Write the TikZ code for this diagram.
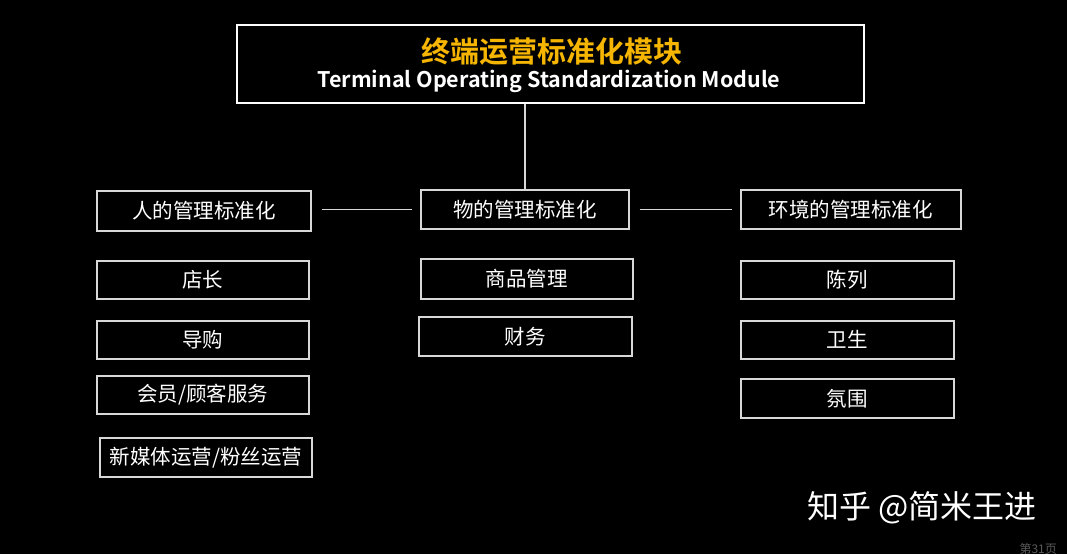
\documentclass[tikz,border=0pt]{standalone}
\usepackage{fontspec}
\setmainfont{Noto Sans CJK SC}
\newfontfamily\cjk{Noto Sans CJK SC}
\newfontfamily\cjkb{Noto Sans CJK SC Bold}
\definecolor{titleyellow}{HTML}{F5B500}
\definecolor{boxgray}{HTML}{D8D8D8}
\definecolor{pagegray}{HTML}{5A5A5A}
\begin{document}
\begin{tikzpicture}[x=1pt,y=-1pt,
  itembox/.style={draw=boxgray,line width=1.6pt,minimum height=38pt,inner sep=0pt,text=white,font=\cjk\fontsize{20.5}{22}\selectfont,anchor=north west},
  link/.style={draw=boxgray,line width=1.4pt}]
\fill[black] (0,0) rectangle (1067,554);
\useasboundingbox (0,0) rectangle (1067,554);
\node[draw=white,line width=2.4pt,minimum width=627pt,minimum height=78pt,anchor=north west,inner sep=0pt] (title) at (236,24) {};
\node[text=titleyellow,font=\cjkb\fontsize{29}{32}\selectfont] (tcn) at (552,52) {终端运营标准化模块};
\node[text=white,font=\cjkb\fontsize{21.5}{24}\selectfont] (ten) at (549,81) {Terminal Operating Standardization Module};
\node[itembox,minimum width=214pt,minimum height=40pt] (people) at (96,190) {人的管理标准化};
\node[itembox,minimum width=208pt,minimum height=39pt] (goods) at (420,189) {物的管理标准化};
\node[itembox,minimum width=220pt,minimum height=39pt] (env) at (740,189) {环境的管理标准化};
\draw[link] (title.south -| goods.north) -- (goods.north);
\draw[link,shorten <=10pt,shorten >=8pt] (people.east |- goods.west) -- (goods.west);
\draw[link,shorten <=10pt,shorten >=8pt] (goods.east) -- (env.west);
\node[itembox,minimum width=212pt] (p1) at (96,260) {店长};
\node[itembox,minimum width=212pt] (p2) at (96,320) {导购};
\node[itembox,minimum width=212pt] (p3) at (96,375) {会员/顾客服务};
\node[itembox,minimum width=212pt,minimum height=39pt] (p4) at (99,437) {新媒体运营/粉丝运营};
\node[itembox,minimum width=212pt,minimum height=40pt] (g1) at (420,258) {商品管理};
\node[itembox,minimum width=213pt,minimum height=39pt] (g2) at (418,316) {财务};
\node[itembox,minimum width=213pt] (e1) at (740,260) {陈列};
\node[itembox,minimum width=213pt] (e2) at (740,320) {卫生};
\node[itembox,minimum width=213pt,minimum height=39pt] (e3) at (740,378) {氛围};
\node[text=white,font=\cjk\fontsize{32}{35}\selectfont,anchor=west] (wm) at (804,508) {知乎 @简米王进};
\node[text=pagegray,font=\cjk\fontsize{12}{14}\selectfont,anchor=west] (pg) at (1016,549) {第31页};
\end{tikzpicture}
\end{document}
